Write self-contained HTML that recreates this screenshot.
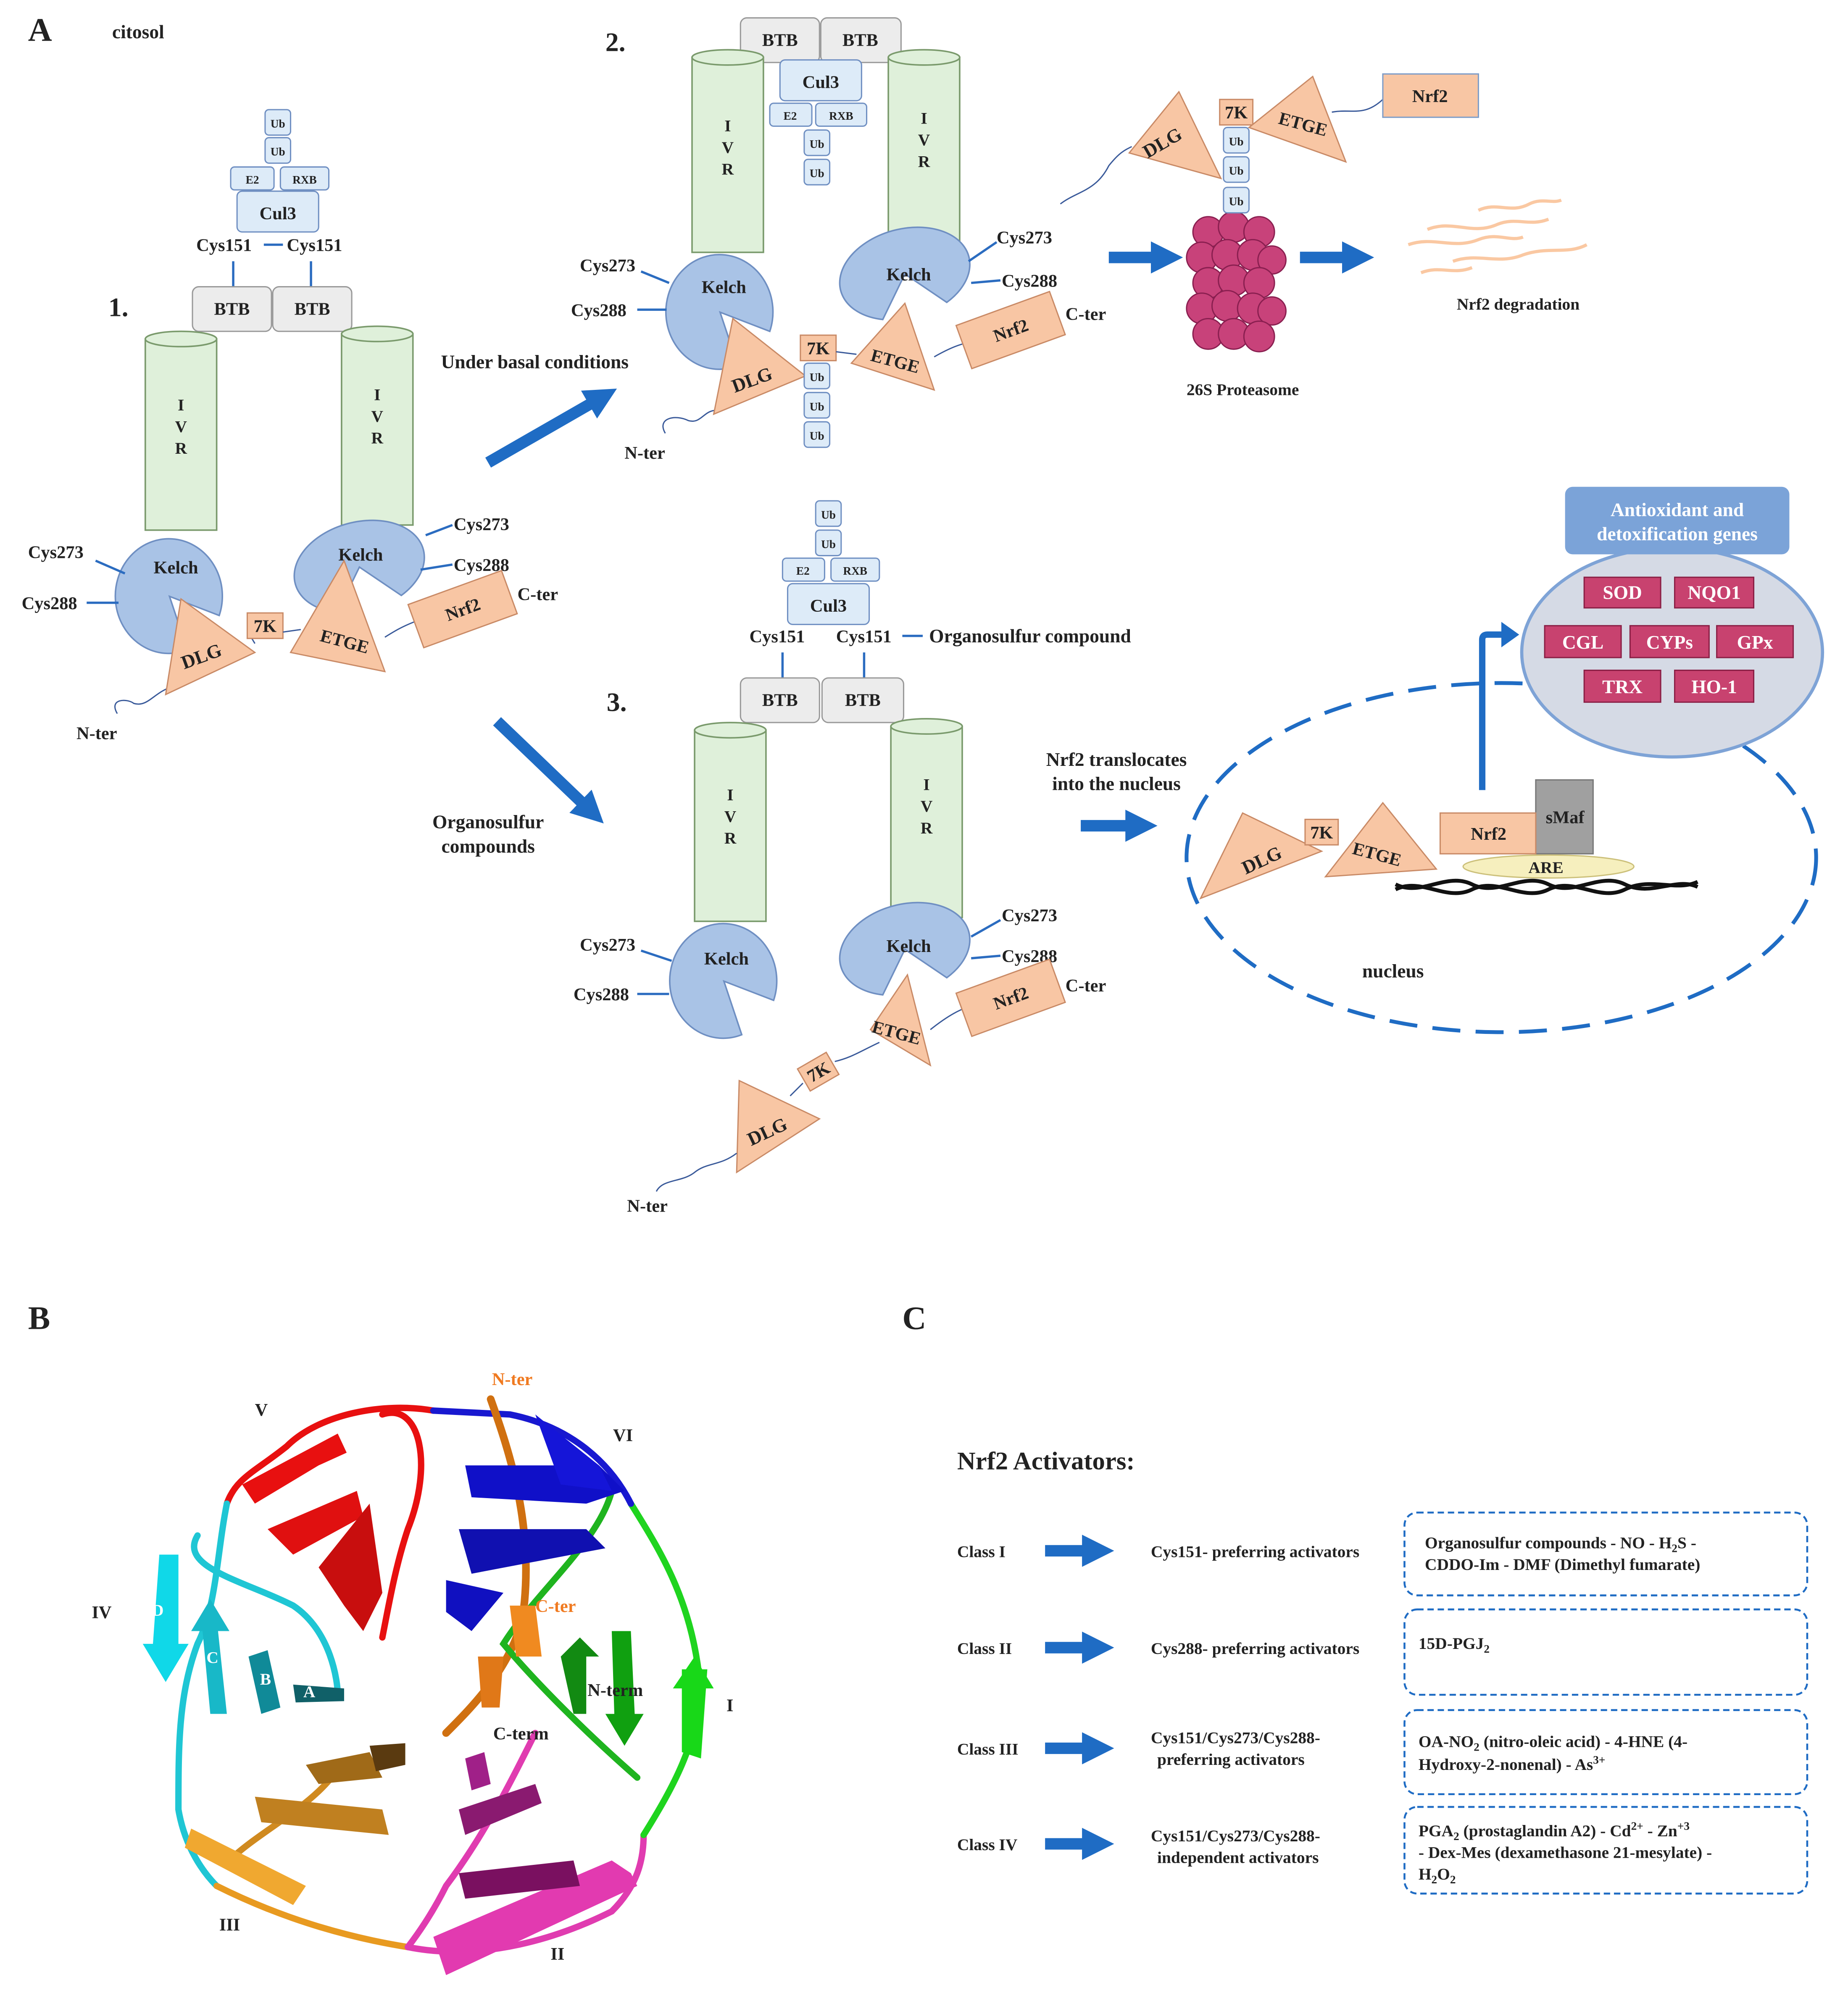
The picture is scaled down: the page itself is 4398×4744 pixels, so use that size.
<!DOCTYPE html>
<html><head><meta charset="utf-8"><style>
html,body{margin:0;padding:0;background:#fff;}
svg{display:block;}
text{font-family:"Liberation Serif",serif;font-weight:bold;fill:#222;}
</style></head><body>
<svg width="4398" height="4744" viewBox="0 0 1450 1564" xmlns="http://www.w3.org/2000/svg">
<defs>
<path id="kL" d="M0,0 L39,15 A42 45 0 1 0 14,42 Z" fill="#a9c3e6" stroke="#6f8fc2" stroke-width="1.2"/>
<path id="kR" d="M0,0 L26,30 A52 35 0 1 0 -26,30 Z" fill="#a9c3e6" stroke="#6f8fc2" stroke-width="1.2"/>
<marker id="ah" markerWidth="2.8" markerHeight="2.8" refX="1" refY="1.4" orient="auto" markerUnits="strokeWidth"><path d="M0,0 L2.8,1.4 L0,2.8 Z" fill="#1f6cc4"/></marker>
</defs>
<style>
.ub{fill:#ddebf8;stroke:#6f8fc2;stroke-width:1}
.btb{fill:#ececec;stroke:#999;stroke-width:1}
.cyl{fill:#dff0da;stroke:#7a9a6c;stroke-width:1.2}
.tri{fill:#f8c6a4;stroke:#c98a66;stroke-width:1}
.ln{stroke:#2b6cc0;stroke-width:1.8;fill:none}
.sq{stroke:#3a5a9a;stroke-width:1;fill:none}
.big{stroke:#1f6cc4;stroke-width:9;fill:none}
.s9{font-size:9px}.s11{font-size:11px}.s13{font-size:13px}.s14{font-size:14px}.s15{font-size:15px}
</style>

<text x="22" y="32" font-size="26">A</text>
<text x="88" y="30" class="s15">citosol</text>

<!-- Structure 1 -->
<rect class="ub" x="208" y="86" width="20" height="20" rx="3"/><text x="218" y="100" class="s9" text-anchor="middle">Ub</text>
<rect class="ub" x="208" y="108" width="20" height="20" rx="3"/><text x="218" y="122" class="s9" text-anchor="middle">Ub</text>
<rect class="ub" x="181" y="131" width="34" height="18" rx="3"/><text x="198" y="144" class="s9" text-anchor="middle">E2</text>
<rect class="ub" x="220" y="131" width="38" height="18" rx="3"/><text x="239" y="144" class="s9" text-anchor="middle">RXB</text>
<rect class="ub" x="186" y="150" width="64" height="32" rx="4"/><text x="218" y="172" class="s14" text-anchor="middle">Cul3</text>
<text x="154" y="197" class="s14">Cys151</text><line x1="207" y1="192" x2="222" y2="192" class="ln"/><text x="225" y="197" class="s14">Cys151</text>
<line x1="183" y1="205" x2="183" y2="225" class="ln"/><line x1="244" y1="205" x2="244" y2="225" class="ln"/>
<rect class="btb" x="151" y="225" width="62" height="35" rx="5"/><text x="182" y="247" class="s14" text-anchor="middle">BTB</text>
<rect class="btb" x="214" y="225" width="62" height="35" rx="5"/><text x="245" y="247" class="s14" text-anchor="middle">BTB</text>
<text x="85" y="248" font-size="21">1.</text>
<rect class="cyl" x="114" y="266" width="56" height="150"/><ellipse class="cyl" cx="142" cy="266" rx="28" ry="6"/>
<text x="142" y="322" class="s13" text-anchor="middle">I</text><text x="142" y="339" class="s13" text-anchor="middle">V</text><text x="142" y="356" class="s13" text-anchor="middle">R</text>
<rect class="cyl" x="268" y="262" width="56" height="150"/><ellipse class="cyl" cx="296" cy="262" rx="28" ry="6"/>
<text x="296" y="314" class="s13" text-anchor="middle">I</text><text x="296" y="331" class="s13" text-anchor="middle">V</text><text x="296" y="348" class="s13" text-anchor="middle">R</text>
<use href="#kL" x="133" y="468"/><text x="138" y="450" class="s14" text-anchor="middle">Kelch</text>
<use href="#kR" x="282" y="445" transform="rotate(-15 282 445)"/><text x="283" y="440" class="s14" text-anchor="middle">Kelch</text>
<line x1="75" y1="440" x2="98" y2="450" class="ln"/><text x="22" y="438" class="s14">Cys273</text>
<line x1="68" y1="473" x2="93" y2="473" class="ln"/><text x="17" y="478" class="s14">Cys288</text>
<line x1="334" y1="420" x2="355" y2="412" class="ln"/><text x="356" y="416" class="s14">Cys273</text>
<line x1="330" y1="447" x2="355" y2="443" class="ln"/><text x="356" y="448" class="s14">Cys288</text>
<path class="sq" d="M92,560 C85,548 100,548 105,552 C115,555 120,545 132,540"/>
<polygon class="tri" points="130,545 142,470 200,512"/><text x="158" y="520" class="s15" text-anchor="middle" transform="rotate(-20 158 515)">DLG</text>
<path class="sq" d="M200,505 L194,495"/>
<rect x="194" y="481" width="28" height="20" fill="#f8c6a4" stroke="#c98a66"/><text x="208" y="496" class="s14" text-anchor="middle">7K</text>
<path class="sq" d="M222,496 L236,494"/>
<polygon class="tri" points="228,512 270,440 302,527"/><text x="270" y="508" class="s14" text-anchor="middle" transform="rotate(15 270 505)">ETGE</text>
<path class="sq" d="M302,500 C310,495 315,492 325,488"/>
<g transform="rotate(-20 363 478)"><rect x="324" y="460" width="78" height="36" fill="#f8c6a4" stroke="#c98a66"/><text x="363" y="483" class="s14" text-anchor="middle">Nrf2</text></g>
<text x="406" y="471" class="s14">C-ter</text>
<text x="60" y="580" class="s14">N-ter</text>

<line x1="383" y1="363" x2="470" y2="313" class="big" marker-end="url(#ah)"/>
<text x="346" y="289" class="s15">Under basal conditions</text>
<line x1="390" y1="566" x2="462" y2="635" class="big" marker-end="url(#ah)"/>
<text x="383" y="650" class="s15" text-anchor="middle">Organosulfur</text><text x="383" y="669" class="s15" text-anchor="middle">compounds</text>

<!-- Structure 2 -->
<text x="475" y="40" font-size="21">2.</text>
<rect class="btb" x="581" y="14" width="62" height="35" rx="5"/><text x="612" y="36" class="s14" text-anchor="middle">BTB</text>
<rect class="btb" x="644" y="14" width="63" height="35" rx="5"/><text x="675" y="36" class="s14" text-anchor="middle">BTB</text>
<rect class="ub" x="612" y="47" width="64" height="32" rx="4"/><text x="644" y="69" class="s14" text-anchor="middle">Cul3</text>
<rect class="ub" x="604" y="81" width="33" height="18" rx="3"/><text x="620" y="94" class="s9" text-anchor="middle">E2</text>
<rect class="ub" x="640" y="81" width="40" height="18" rx="3"/><text x="660" y="94" class="s9" text-anchor="middle">RXB</text>
<rect class="ub" x="631" y="102" width="20" height="20" rx="3"/><text x="641" y="116" class="s9" text-anchor="middle">Ub</text>
<rect class="ub" x="631" y="125" width="20" height="20" rx="3"/><text x="641" y="139" class="s9" text-anchor="middle">Ub</text>
<rect class="cyl" x="543" y="45" width="56" height="153"/><ellipse class="cyl" cx="571" cy="45" rx="28" ry="6"/>
<text x="571" y="103" class="s13" text-anchor="middle">I</text><text x="571" y="120" class="s13" text-anchor="middle">V</text><text x="571" y="137" class="s13" text-anchor="middle">R</text>
<rect class="cyl" x="697" y="45" width="56" height="150"/><ellipse class="cyl" cx="725" cy="45" rx="28" ry="6"/>
<text x="725" y="97" class="s13" text-anchor="middle">I</text><text x="725" y="114" class="s13" text-anchor="middle">V</text><text x="725" y="131" class="s13" text-anchor="middle">R</text>
<use href="#kL" x="565" y="245"/><text x="568" y="230" class="s14" text-anchor="middle">Kelch</text>
<use href="#kR" x="710" y="215" transform="rotate(-15 710 215)"/><text x="713" y="220" class="s14" text-anchor="middle">Kelch</text>
<line x1="503" y1="213" x2="525" y2="222" class="ln"/><text x="455" y="213" class="s14">Cys273</text>
<line x1="500" y1="243" x2="523" y2="243" class="ln"/><text x="448" y="248" class="s14">Cys288</text>
<line x1="760" y1="205" x2="782" y2="190" class="ln"/><text x="782" y="191" class="s14">Cys273</text>
<line x1="762" y1="222" x2="785" y2="220" class="ln"/><text x="786" y="225" class="s14">Cys288</text>
<path class="sq" d="M522,340 C515,328 530,325 540,330 C550,333 552,322 562,322"/>
<polygon class="tri" points="560,325 575,250 632,295"/><text x="590" y="303" class="s15" text-anchor="middle" transform="rotate(-20 590 298)">DLG</text>
<rect x="628" y="263" width="28" height="20" fill="#f8c6a4" stroke="#c98a66"/><text x="642" y="278" class="s14" text-anchor="middle">7K</text>
<rect class="ub" x="631" y="285" width="20" height="20" rx="3"/><text x="641" y="299" class="s9" text-anchor="middle">Ub</text>
<rect class="ub" x="631" y="308" width="20" height="20" rx="3"/><text x="641" y="322" class="s9" text-anchor="middle">Ub</text>
<rect class="ub" x="631" y="331" width="20" height="20" rx="3"/><text x="641" y="345" class="s9" text-anchor="middle">Ub</text>
<path class="sq" d="M656,276 L672,278"/>
<polygon class="tri" points="668,285 710,238 733,306"/><text x="702" y="288" class="s14" text-anchor="middle" transform="rotate(15 702 285)">ETGE</text>
<path class="sq" d="M733,280 C740,276 748,272 755,270"/>
<g transform="rotate(-20 793 259)"><rect x="754" y="241" width="78" height="36" fill="#f8c6a4" stroke="#c98a66"/><text x="793" y="264" class="s14" text-anchor="middle">Nrf2</text></g>
<text x="836" y="251" class="s14">C-ter</text>
<text x="490" y="360" class="s14">N-ter</text>

<line x1="870" y1="202" x2="912" y2="202" class="big" marker-end="url(#ah)"/>
<g fill="#c8427a" stroke="#8a1f50" stroke-width="1">
<circle cx="948" cy="182" r="12"/><circle cx="968" cy="178" r="12"/><circle cx="988" cy="182" r="12"/>
<circle cx="943" cy="202" r="12"/><circle cx="963" cy="200" r="12"/><circle cx="983" cy="200" r="12"/><circle cx="998" cy="204" r="11"/>
<circle cx="948" cy="222" r="12"/><circle cx="968" cy="220" r="12"/><circle cx="988" cy="222" r="12"/>
<circle cx="943" cy="242" r="12"/><circle cx="963" cy="240" r="12"/><circle cx="983" cy="242" r="12"/><circle cx="998" cy="244" r="11"/>
<circle cx="948" cy="262" r="12"/><circle cx="968" cy="262" r="12"/><circle cx="988" cy="264" r="12"/>
</g>
<text x="931" y="310" class="s13">26S Proteasome</text>
<path class="sq" d="M832,160 C845,150 860,150 870,130 C878,120 882,118 888,115"/>
<polygon class="tri" points="886,120 925,72 958,140"/><text x="912" y="117" class="s15" text-anchor="middle" transform="rotate(-30 912 112)">DLG</text>
<rect x="957" y="78" width="26" height="20" fill="#f8c6a4" stroke="#c98a66"/><text x="970" y="93" class="s14" text-anchor="middle">7K</text>
<rect class="ub" x="960" y="100" width="20" height="20" rx="3"/><text x="970" y="114" class="s9" text-anchor="middle">Ub</text>
<rect class="ub" x="960" y="123" width="20" height="20" rx="3"/><text x="970" y="137" class="s9" text-anchor="middle">Ub</text>
<rect class="ub" x="960" y="147" width="20" height="20" rx="3"/><text x="970" y="161" class="s9" text-anchor="middle">Ub</text>
<polygon class="tri" points="980,100 1030,60 1056,127"/><text x="1022" y="102" class="s14" text-anchor="middle" transform="rotate(15 1022 99)">ETGE</text>
<path class="sq" d="M1045,88 C1060,85 1070,92 1085,78"/>
<rect x="1085" y="58" width="75" height="34" fill="#f8c6a4" stroke="#7d9cc7"/><text x="1122" y="80" class="s14" text-anchor="middle">Nrf2</text>
<line x1="1020" y1="202" x2="1062" y2="202" class="big" marker-end="url(#ah)"/>
<g stroke="#fac8a2" stroke-width="2.5" fill="none">
<path d="M1160,165 C1175,158 1185,168 1200,160 C1210,155 1218,160 1225,157"/>
<path d="M1120,180 C1140,172 1155,185 1175,176 C1190,170 1200,178 1215,172"/>
<path d="M1105,192 C1125,185 1140,196 1160,188 C1175,182 1185,190 1195,186"/>
<path d="M1140,205 C1160,198 1175,208 1195,200 C1215,193 1230,200 1245,192"/>
<path d="M1115,214 C1130,208 1140,216 1155,210"/>
</g>
<text x="1143" y="243" class="s13">Nrf2 degradation</text>

<!-- Structure 3 -->
<rect class="ub" x="640" y="393" width="20" height="20" rx="3"/><text x="650" y="407" class="s9" text-anchor="middle">Ub</text>
<rect class="ub" x="640" y="416" width="20" height="20" rx="3"/><text x="650" y="430" class="s9" text-anchor="middle">Ub</text>
<rect class="ub" x="614" y="438" width="33" height="18" rx="3"/><text x="630" y="451" class="s9" text-anchor="middle">E2</text>
<rect class="ub" x="652" y="438" width="38" height="18" rx="3"/><text x="671" y="451" class="s9" text-anchor="middle">RXB</text>
<rect class="ub" x="618" y="458" width="64" height="32" rx="4"/><text x="650" y="480" class="s14" text-anchor="middle">Cul3</text>
<text x="588" y="504" class="s14">Cys151</text><text x="656" y="504" class="s14">Cys151</text>
<line x1="708" y1="499" x2="724" y2="499" class="ln"/><text x="729" y="504" class="s15">Organosulfur compound</text>
<line x1="614" y1="512" x2="614" y2="532" class="ln"/><line x1="678" y1="512" x2="678" y2="532" class="ln"/>
<rect class="btb" x="581" y="532" width="62" height="35" rx="5"/><text x="612" y="554" class="s14" text-anchor="middle">BTB</text>
<rect class="btb" x="645" y="532" width="64" height="35" rx="5"/><text x="677" y="554" class="s14" text-anchor="middle">BTB</text>
<text x="476" y="558" font-size="21">3.</text>
<rect class="cyl" x="545" y="573" width="56" height="150"/><ellipse class="cyl" cx="573" cy="573" rx="28" ry="6"/>
<text x="573" y="628" class="s13" text-anchor="middle">I</text><text x="573" y="645" class="s13" text-anchor="middle">V</text><text x="573" y="662" class="s13" text-anchor="middle">R</text>
<rect class="cyl" x="699" y="570" width="56" height="150"/><ellipse class="cyl" cx="727" cy="570" rx="28" ry="6"/>
<text x="727" y="620" class="s13" text-anchor="middle">I</text><text x="727" y="637" class="s13" text-anchor="middle">V</text><text x="727" y="654" class="s13" text-anchor="middle">R</text>
<use href="#kL" x="568" y="770"/><text x="570" y="757" class="s14" text-anchor="middle">Kelch</text>
<use href="#kR" x="710" y="745" transform="rotate(-15 710 745)"/><text x="713" y="747" class="s14" text-anchor="middle">Kelch</text>
<line x1="503" y1="746" x2="527" y2="754" class="ln"/><text x="455" y="746" class="s14">Cys273</text>
<line x1="500" y1="780" x2="525" y2="780" class="ln"/><text x="450" y="785" class="s14">Cys288</text>
<line x1="762" y1="735" x2="785" y2="722" class="ln"/><text x="786" y="723" class="s14">Cys273</text>
<line x1="762" y1="752" x2="785" y2="750" class="ln"/><text x="786" y="755" class="s14">Cys288</text>
<polygon class="tri" points="683,808 712,765 730,836"/><text x="703" y="815" class="s14" text-anchor="middle" transform="rotate(15 703 812)">ETGE</text>
<path class="sq" d="M730,808 C740,800 748,795 755,792"/>
<g transform="rotate(-20 793 783)"><rect x="754" y="765" width="78" height="36" fill="#f8c6a4" stroke="#c98a66"/><text x="793" y="788" class="s14" text-anchor="middle">Nrf2</text></g>
<text x="836" y="778" class="s14">C-ter</text>
<path class="sq" d="M690,818 C675,825 668,830 655,833"/>
<g transform="rotate(-30 642 841)"><rect x="629" y="831" width="26" height="20" fill="#f8c6a4" stroke="#c98a66"/><text x="642" y="846" class="s14" text-anchor="middle">7K</text></g>
<path class="sq" d="M630,850 L620,860"/>
<polygon class="tri" points="578,920 580,848 643,878"/><text x="602" y="893" class="s15" text-anchor="middle" transform="rotate(-25 602 888)">DLG</text>
<path class="sq" d="M515,935 C520,925 535,928 545,920 C555,912 565,915 578,905"/>
<text x="492" y="951" class="s14">N-ter</text>

<!-- nucleus -->
<text x="876" y="601" class="s15" text-anchor="middle">Nrf2 translocates</text>
<text x="876" y="620" class="s15" text-anchor="middle">into the nucleus</text>
<line x1="848" y1="648" x2="892" y2="648" class="big" marker-end="url(#ah)"/>
<ellipse cx="1178" cy="673" rx="247" ry="137" fill="none" stroke="#1f6cc4" stroke-width="3" stroke-dasharray="22,12"/>
<path class="sq" d="M955,690 C965,678 975,690 985,680"/>
<polygon class="tri" points="942,705 975,638 1037,668"/><text x="990" y="680" class="s15" text-anchor="middle" transform="rotate(-25 990 675)">DLG</text>
<rect x="1024" y="643" width="26" height="20" fill="#f8c6a4" stroke="#c98a66"/><text x="1037" y="658" class="s14" text-anchor="middle">7K</text>
<polygon class="tri" points="1040,688 1085,630 1127,682"/><text x="1080" y="675" class="s14" text-anchor="middle" transform="rotate(15 1080 672)">ETGE</text>
<rect x="1205" y="612" width="45" height="58" fill="#a0a0a0" stroke="#777"/><text x="1228" y="646" class="s14" text-anchor="middle">sMaf</text>
<rect x="1130" y="638" width="75" height="32" fill="#f8c6a4" stroke="#c98a66"/><text x="1168" y="659" class="s14" text-anchor="middle">Nrf2</text>
<g stroke="#111" stroke-width="3" fill="none">
<path d="M1095,698 C1115,688 1135,708 1155,698 C1175,688 1195,708 1215,698 C1235,688 1255,708 1275,698 C1295,688 1315,700 1332,692"/>
<path d="M1095,694 C1115,704 1135,684 1155,694 C1175,704 1195,684 1215,694 C1235,704 1255,684 1275,694 C1295,704 1315,688 1332,696"/>
</g>
<ellipse cx="1215" cy="680" rx="67" ry="9" fill="#f6efbe" stroke="#ccc07a"/><text x="1213" y="685" class="s13" text-anchor="middle">ARE</text>
<text x="1093" y="767" class="s15" text-anchor="middle">nucleus</text>
<path d="M1163,620 L1163,502 Q1163,498 1167,498 L1180,498" stroke="#1f6cc4" stroke-width="5" fill="none"/>
<polygon points="1178,488 1192,498 1178,508" fill="#1f6cc4"/>
<ellipse cx="1312" cy="512" rx="118" ry="82" fill="#d5dae5" stroke="#7ea3d6" stroke-width="2.5"/>
<rect x="1228" y="382" width="176" height="53" rx="6" fill="#7ba3d8"/>
<text x="1316" y="405" class="s15" text-anchor="middle" style="fill:#fff">Antioxidant and</text>
<text x="1316" y="424" class="s15" text-anchor="middle" style="fill:#fff">detoxification genes</text>
<g fill="#c8426f" stroke="#8a1f45">
<rect x="1243" y="453" width="60" height="24"/><rect x="1314" y="453" width="62" height="24"/>
<rect x="1212" y="491" width="60" height="25"/><rect x="1279" y="491" width="62" height="25"/><rect x="1347" y="491" width="60" height="25"/>
<rect x="1243" y="526" width="60" height="25"/><rect x="1314" y="526" width="62" height="25"/>
</g>
<g class="s15" text-anchor="middle">
<text x="1273" y="470" style="fill:#fff">SOD</text><text x="1345" y="470" style="fill:#fff">NQO1</text>
<text x="1242" y="509" style="fill:#fff">CGL</text><text x="1310" y="509" style="fill:#fff">CYPs</text><text x="1377" y="509" style="fill:#fff">GPx</text>
<text x="1273" y="544" style="fill:#fff">TRX</text><text x="1345" y="544" style="fill:#fff">HO-1</text>
</g>

<!-- B -->
<text x="22" y="1043" font-size="26">B</text>
<g fill="none" stroke-linecap="round" stroke-width="5">
<path d="M340,1107 C300,1100 250,1110 225,1135 C200,1155 185,1160 178,1180" stroke="#e81010"/>
<path d="M178,1180 C170,1220 170,1260 155,1290 C140,1330 140,1370 140,1420 C145,1450 160,1470 170,1480" stroke="#1fc6d4"/>
<path d="M170,1480 C220,1505 270,1520 320,1528" stroke="#e89a20"/>
<path d="M320,1528 C380,1540 440,1520 480,1500 C500,1480 505,1460 505,1440" stroke="#e03cb0"/>
<path d="M505,1440 C530,1400 545,1370 550,1330 C545,1260 520,1220 495,1180" stroke="#1fd41f"/>
<path d="M495,1180 C480,1150 450,1120 400,1110 L340,1107" stroke="#1818d0"/>
<path d="M300,1110 C330,1100 340,1150 320,1200 C310,1230 305,1260 300,1285" stroke="#e81010"/>
<path d="M155,1205 C140,1230 190,1240 230,1260 C260,1280 265,1320 265,1330" stroke="#1fc6d4"/>
<path d="M385,1098 C400,1140 420,1200 410,1270 C400,1310 370,1340 350,1360" stroke="#d07010" stroke-width="6"/>
<path d="M480,1170 C470,1210 420,1250 395,1290 C420,1320 460,1360 500,1395" stroke="#1fb41f"/>
<path d="M420,1360 C400,1400 380,1440 350,1480 C340,1500 330,1515 320,1528" stroke="#e03cb0"/>
<path d="M260,1395 C240,1420 200,1440 180,1460" stroke="#d08a20"/>
</g>
<g stroke="none">
<polygon points="190,1165 265,1125 272,1140 250,1150 200,1180" fill="#e81010"/>
<polygon points="210,1200 280,1170 285,1190 230,1220" fill="#e01010"/>
<polygon points="250,1230 290,1180 300,1250 285,1280 270,1260" fill="#c80e0e"/>
<polygon points="365,1150 470,1150 490,1170 460,1180 370,1175" fill="#1010c8"/>
<polygon points="360,1200 460,1200 475,1215 370,1235" fill="#1010b0"/>
<polygon points="350,1240 395,1250 370,1280 350,1265" fill="#1010c0"/>
<polygon points="420,1110 470,1150 480,1170 440,1165" fill="#1515d8"/>
<polygon points="125,1220 140,1220 140,1290 148,1290 130,1320 112,1290 120,1290" fill="#10d8e8"/>
<polygon points="158,1270 170,1270 178,1345 165,1345" fill="#18b8c8"/>
<polygon points="150,1280 165,1255 180,1280" fill="#18b8c8"/>
<polygon points="195,1300 210,1295 220,1340 205,1345" fill="#108a98"/>
<polygon points="230,1322 270,1325 270,1335 232,1336" fill="#106068"/>
<polygon points="145,1450 150,1435 240,1480 230,1495" fill="#f0a830"/>
<polygon points="200,1410 300,1420 305,1440 205,1430" fill="#c08020"/>
<polygon points="240,1385 290,1375 300,1395 250,1400" fill="#a06a18"/>
<polygon points="290,1370 318,1368 318,1385 295,1390" fill="#5a3a10"/>
<polygon points="340,1520 480,1460 495,1470 500,1480 350,1550" fill="#e23ab0"/>
<polygon points="360,1470 450,1460 455,1480 365,1490" fill="#7a1060"/>
<polygon points="360,1420 420,1400 425,1415 365,1440" fill="#8a1a70"/>
<polygon points="365,1380 380,1375 385,1400 370,1405" fill="#a02088"/>
<polygon points="535,1310 555,1310 550,1380 535,1375" fill="#18d818"/>
<polygon points="528,1325 545,1300 560,1325" fill="#18d818"/>
<polygon points="480,1280 495,1280 498,1345 505,1345 490,1370 475,1345 482,1345" fill="#10a010"/>
<polygon points="440,1300 455,1285 470,1300 460,1300 460,1345 450,1345" fill="#128a12"/>
<polygon points="400,1260 420,1260 425,1300 405,1300" fill="#f08a20"/>
<polygon points="375,1300 395,1300 392,1340 378,1340" fill="#e07818"/>
</g>
<text x="386" y="1087" class="s14" style="fill:#f07a20">N-ter</text>
<text x="200" y="1111" class="s14">V</text>
<text x="481" y="1131" class="s14">VI</text>
<text x="72" y="1270" class="s14">IV</text>
<text x="119" y="1268" class="s13" style="fill:#fff">D</text>
<text x="162" y="1305" class="s13" style="fill:#fff">C</text>
<text x="204" y="1322" class="s13" style="fill:#fff">B</text>
<text x="238" y="1332" class="s13" style="fill:#fff">A</text>
<text x="420" y="1265" class="s14" style="fill:#f07a20">C-ter</text>
<text x="461" y="1331" class="s14">N-term</text>
<text x="387" y="1365" class="s14">C-term</text>
<text x="570" y="1343" class="s14">I</text>
<text x="172" y="1515" class="s14">III</text>
<text x="432" y="1538" class="s14">II</text>

<!-- C -->
<text x="708" y="1043" font-size="26">C</text>
<text x="751" y="1153" font-size="20">Nrf2 Activators:</text>
<g class="s13">
<text x="751" y="1222">Class I</text>
<text x="751" y="1298">Class II</text>
<text x="751" y="1377">Class III</text>
<text x="751" y="1452">Class IV</text>
<text x="903" y="1222">Cys151- preferring activators</text>
<text x="903" y="1298">Cys288- preferring activators</text>
<text x="903" y="1368">Cys151/Cys273/Cys288-</text>
<text x="908" y="1385">preferring activators</text>
<text x="903" y="1445">Cys151/Cys273/Cys288-</text>
<text x="908" y="1462">independent activators</text>
</g>
<line x1="820" y1="1217" x2="858" y2="1217" class="big" marker-end="url(#ah)"/>
<line x1="820" y1="1293" x2="858" y2="1293" class="big" marker-end="url(#ah)"/>
<line x1="820" y1="1372" x2="858" y2="1372" class="big" marker-end="url(#ah)"/>
<line x1="820" y1="1447" x2="858" y2="1447" class="big" marker-end="url(#ah)"/>
<g fill="none" stroke="#1f6cc4" stroke-width="1.5" stroke-dasharray="5,3">
<rect x="1102" y="1187" width="316" height="65" rx="10"/>
<rect x="1102" y="1263" width="316" height="67" rx="10"/>
<rect x="1102" y="1342" width="316" height="66" rx="10"/>
<rect x="1102" y="1418" width="316" height="68" rx="10"/>
</g>
<g class="s13">
<text x="1118" y="1215">Organosulfur compounds  -  NO  -  H<tspan font-size="9" dy="3">2</tspan><tspan dy="-3">S  -</tspan></text>
<text x="1118" y="1232">CDDO-Im  -  DMF (Dimethyl fumarate)</text>
<text x="1113" y="1294">15D-PGJ<tspan font-size="9" dy="3">2</tspan></text>
<text x="1113" y="1371">OA-NO<tspan font-size="9" dy="3">2</tspan><tspan dy="-3"> (nitro-oleic acid)  -  4-HNE (4-</tspan></text>
<text x="1113" y="1389">Hydroxy-2-nonenal)  -  As<tspan font-size="9" dy="-5">3+</tspan></text>
<text x="1113" y="1441">PGA<tspan font-size="9" dy="3">2</tspan><tspan dy="-3"> (prostaglandin A2)  -  Cd</tspan><tspan font-size="9" dy="-5">2+</tspan><tspan dy="5">  -  Zn</tspan><tspan font-size="9" dy="-5">+3</tspan></text>
<text x="1113" y="1458">-  Dex-Mes (dexamethasone 21-mesylate)  -</text>
<text x="1113" y="1475">H<tspan font-size="9" dy="3">2</tspan><tspan dy="-3">O</tspan><tspan font-size="9" dy="3">2</tspan></text>
</g>
</svg>
</body></html>
